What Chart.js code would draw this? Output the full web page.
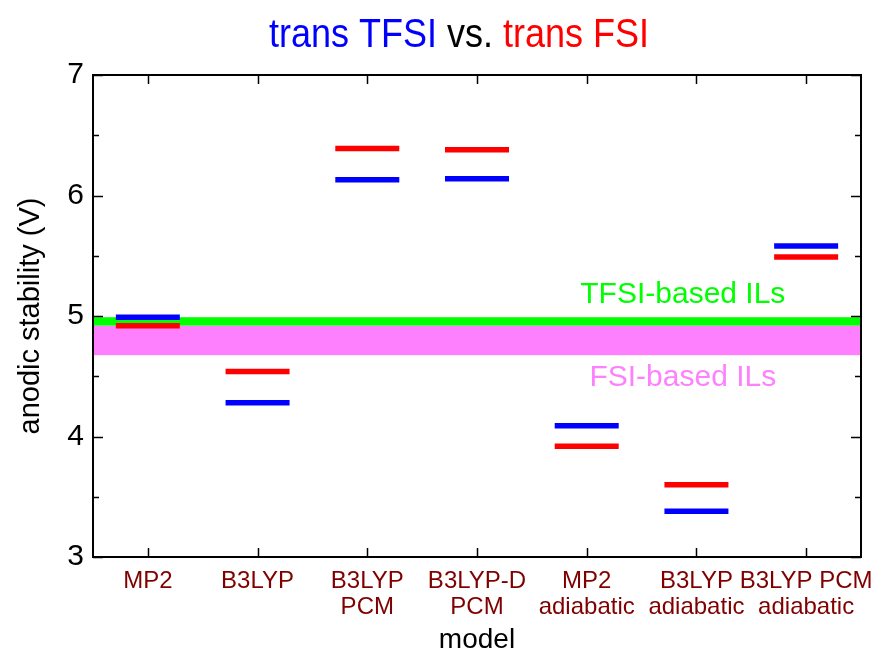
<!DOCTYPE html>
<html>
<head>
<meta charset="utf-8">
<script src="https://cdn.jsdelivr.net/npm/chart.js@4/dist/chart.umd.min.js"></script>
<style>
  html, body { margin: 0; padding: 0; background: #ffffff; }
  #wrap { width: 884px; height: 653px; }
</style>
</head>
<body>
<div id="wrap"><canvas id="c" width="884" height="653"></canvas></div>
<script>
// ---- data ----
const categories = [
  ['MP2'], ['B3LYP'], ['B3LYP', 'PCM'], ['B3LYP-D', 'PCM'],
  ['MP2', 'adiabatic'], ['B3LYP', 'adiabatic'], ['B3LYP PCM', 'adiabatic']
];
const tfsiValues = [4.99, 4.28, 6.13, 6.14, 4.09, 3.38, 5.58];
const fsiValues  = [4.92, 4.54, 6.39, 6.38, 3.92, 3.60, 5.49];
const yTicks = [3, 4, 5, 6, 7];
const tfsiBand = [4.92, 4.99];
const fsiBand  = [4.675, 4.92];
const bandLabels = [
  { text: 'TFSI-based ILs', y: 5.11, color: '#00ff00' },
  { text: 'FSI-based ILs',  y: 4.42, color: '#ff80ff' }
];
const titleParts = [
  { text: 'trans TFSI', color: '#0000ff' },
  { text: ' vs. ',      color: '#000000' },
  { text: 'trans FSI',  color: '#ff0000' }
];

const FONT = "'Liberation Sans', Arial, Helvetica, sans-serif";

const decorPlugin = {
  id: 'decor',
  beforeDatasetsDraw(chart) {
    const { ctx, chartArea: a, scales: { y } } = chart;
    ctx.save();
    const bands = [[fsiBand, '#ff80ff'], [tfsiBand, '#00ff00']];
    for (const [b, col] of bands) {
      const y1 = y.getPixelForValue(b[1]);
      const y0 = y.getPixelForValue(b[0]);
      ctx.fillStyle = col;
      ctx.fillRect(a.left, y1, a.right - a.left, y0 - y1);
    }
    ctx.font = '30px ' + FONT;
    ctx.textAlign = 'center';
    ctx.textBaseline = 'alphabetic';
    const cx = a.left + (a.right - a.left) * 0.768;
    for (const l of bandLabels) {
      ctx.fillStyle = l.color;
      ctx.fillText(l.text, cx, y.getPixelForValue(l.y));
    }
    ctx.restore();
  },
  afterDraw(chart) {
    const { ctx, chartArea: a, scales: { x, y } } = chart;
    ctx.save();
    ctx.strokeStyle = '#000';
    ctx.lineWidth = 2;
    ctx.strokeRect(a.left, a.top, a.right - a.left, a.bottom - a.top);
    ctx.lineWidth = 1.5;
    ctx.beginPath();
    for (let i = 0; i < yTicks.length; i++) {
      const py = Math.round(y.getPixelForValue(yTicks[i])) + 0.5;
      ctx.moveTo(a.left, py); ctx.lineTo(a.left + 10, py);
      ctx.moveTo(a.right, py); ctx.lineTo(a.right - 10, py);
      if (i < yTicks.length - 1) {
        const pm = Math.round(y.getPixelForValue((yTicks[i] + yTicks[i + 1]) / 2)) + 0.5;
        ctx.moveTo(a.left, pm); ctx.lineTo(a.left + 6, pm);
        ctx.moveTo(a.right, pm); ctx.lineTo(a.right - 6, pm);
      }
    }
    for (let i = 0; i < categories.length; i++) {
      const px = Math.round(x.getPixelForTick(i)) + 0.5;
      ctx.moveTo(px, a.bottom); ctx.lineTo(px, a.bottom - 9);
      ctx.moveTo(px, a.top); ctx.lineTo(px, a.top + 9);
    }
    ctx.stroke();

    // multi-colour title (slightly condensed like the reference)
    ctx.font = '40px ' + FONT;
    ctx.textBaseline = 'alphabetic';
    ctx.textAlign = 'left';
    const sx = 0.9;
    const widths = titleParts.map(p => ctx.measureText(p.text).width * sx);
    const total = widths.reduce((s, w) => s + w, 0);
    let tx = 459 - total / 2;
    titleParts.forEach((p, i) => {
      ctx.save();
      ctx.translate(tx, 47);
      ctx.scale(sx, 1);
      ctx.fillStyle = p.color;
      ctx.fillText(p.text, 0, 0);
      ctx.restore();
      tx += widths[i];
    });
    ctx.restore();
  }
};

const segStyle = {
  showLine: false,
  pointStyle: 'line',
  pointRadius: 32,
  pointHoverRadius: 32,
  borderWidth: 5.5,
};

new Chart(document.getElementById('c'), {
  type: 'line',
  data: {
    labels: categories,
    datasets: [
      Object.assign({ label: 'trans TFSI', data: tfsiValues, borderColor: '#0000ff', backgroundColor: '#0000ff' }, segStyle),
      Object.assign({ label: 'trans FSI',  data: fsiValues,  borderColor: '#ff0000', backgroundColor: '#ff0000' }, segStyle)
    ]
  },
  options: {
    responsive: false,
    animation: false,
    events: [],
    layout: { autoPadding: false, padding: { left: 14, right: 23, top: 75, bottom: 0 } },
    plugins: { legend: { display: false }, title: { display: false }, tooltip: { enabled: false } },
    scales: {
      x: {
        type: 'category',
        offset: true,
        grid: { display: false, drawTicks: false },
        border: { display: false },
        ticks: {
          color: '#800000',
          font: { size: 24, family: FONT, lineHeight: 1.1 },
          padding: 11,
          maxRotation: 0,
          minRotation: 0,
          autoSkip: false
        },
        title: {
          display: true,
          text: 'model',
          color: '#000',
          font: { size: 28, family: FONT, lineHeight: 0.9 },
          padding: { top: 0, bottom: 0 }
        },
        afterFit(s) { s.height = 96; s.paddingLeft = 0; s.paddingRight = 0; }
      },
      y: {
        min: 3,
        max: 7,
        afterBuildTicks(s) { s.ticks = yTicks.map(v => ({ value: v })); },
        grid: { display: false, drawTicks: false },
        border: { display: false },
        ticks: {
          color: '#000',
          font: { size: 30, family: FONT },
          padding: 9,
          callback: v => String(v)
        },
        title: {
          display: true,
          text: 'anodic stability (V)',
          color: '#000',
          font: { size: 29, family: FONT, lineHeight: 1.2 },
          padding: { top: 0, bottom: 0 }
        },
        afterFit(s) { s.width = 79; s.paddingTop = 0; s.paddingBottom = 0; }
      }
    }
  },
  plugins: [decorPlugin]
});
</script>
</body>
</html>
